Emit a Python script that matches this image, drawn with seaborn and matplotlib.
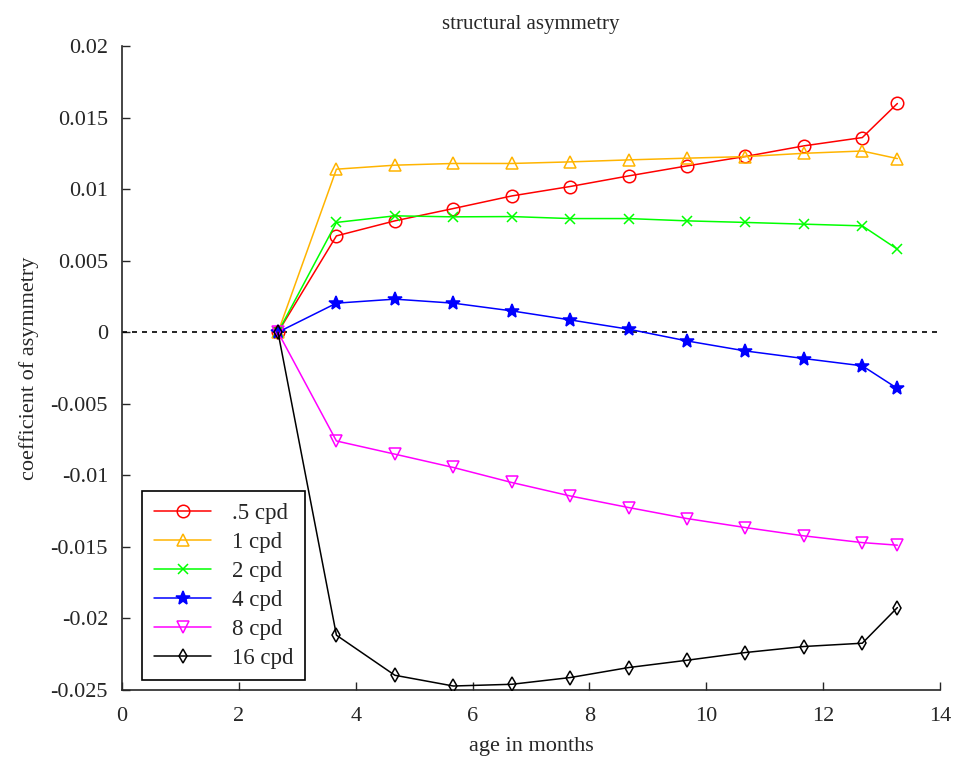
import numpy as np
import pandas as pd
import matplotlib
matplotlib.use("Agg")
import matplotlib.pyplot as plt
import seaborn as sns

# age in months for each sample
age = [2.67, 3.67, 4.67, 5.67, 6.67, 7.67, 8.67, 9.67, 10.67, 11.67, 12.67, 13.27]

cpd_05 = [0, 0.00673, 0.00778, 0.00864, 0.00952, 0.01018, 0.01092, 0.01162, 0.01228, 0.01302, 0.0136, 0.01598]
cpd_1 = [0, 0.01139, 0.01167, 0.01179, 0.01179, 0.0119, 0.01204, 0.01216, 0.01227, 0.0125, 0.01266, 0.01213]
cpd_2 = [0, 0.00767, 0.00813, 0.00806, 0.00808, 0.00794, 0.00794, 0.00778, 0.00767, 0.00755, 0.00743, 0.0058]
cpd_4 = [0, 0.00203, 0.00231, 0.00203, 0.00149, 0.00086, 0.00021, -0.00061, -0.00131, -0.00184, -0.00235, -0.00393]
cpd_8 = [0, -0.0076, -0.00852, -0.00945, -0.0105, -0.01144, -0.01225, -0.01302, -0.01365, -0.01423, -0.0147, -0.01488]
cpd_16 = [0, -0.02117, -0.02397, -0.02472, -0.0246, -0.02413, -0.02343, -0.02292, -0.02238, -0.02196, -0.02173, -0.01924]

labels = [".5 cpd", "1 cpd", "2 cpd", "4 cpd", "8 cpd", "16 cpd"]
series = [cpd_05, cpd_1, cpd_2, cpd_4, cpd_8, cpd_16]
colors = ["#ff0000", "#ffb400", "#00ff00", "#0000ff", "#ff00ff", "#000000"]
markers = ["o", "^", "x", "*", "v", "d"]
filled = [False, False, False, True, False, False]
msizes = [9, 8, 7, 10, 8, 7]

sns.set_style("ticks")
plt.rcParams["font.family"] = ["Liberation Serif", "DejaVu Serif"]

fig = plt.figure(figsize=(9.56, 7.66), dpi=100)
ax = fig.add_axes([0.1276, 0.0992, 0.8557, 0.8408])

ax.axhline(0, color="black", linestyle=(0, (3, 3)), linewidth=1.2, zorder=1)

for lab, vals, c, m, f, ms in zip(labels, series, colors, markers, filled, msizes):
    df = pd.DataFrame({"age": age, "coef": vals})
    sns.lineplot(data=df, x="age", y="coef", ax=ax, color=c, marker=m,
                 markersize=ms, linewidth=1.1,
                 markerfacecolor=(c if f else "none"), markeredgecolor=c,
                 markeredgewidth=1.1, label=lab, zorder=3)

ax.set_xlim(0, 14)
ax.set_ylim(-0.025, 0.02)
ax.set_xticks(np.arange(0, 15, 2))
ax.set_yticks(np.arange(-0.025, 0.0201, 0.005))
ax.set_yticklabels(["-0.025", "-0.02", "-0.015", "-0.01", "-0.005", "0",
                    "0.005", "0.01", "0.015", "0.02"])
ax.tick_params(direction="in", length=6, labelsize=16, width=1)
ax.tick_params(axis="y", pad=10)
ax.tick_params(axis="x", pad=12)
ax.spines["top"].set_visible(False)
ax.spines["right"].set_visible(False)
for s in ["left", "bottom"]:
    ax.spines[s].set_linewidth(1.2)

ax.set_title("structural asymmetry", fontsize=15, pad=12)
ax.set_xlabel("age in months", fontsize=16, labelpad=8)
ax.set_ylabel("coefficient of asymmetry", fontsize=16, labelpad=8)

leg = ax.legend(loc="lower left", bbox_to_anchor=(0.025, 0.015), fontsize=16.5,
                frameon=True, fancybox=False, edgecolor="black", framealpha=1,
                borderaxespad=0, handlelength=2.5, labelspacing=0.35,
                borderpad=0.5, handletextpad=0.9)
leg.get_frame().set_linewidth(1.2)

fig.savefig("out.png", dpi=100)
